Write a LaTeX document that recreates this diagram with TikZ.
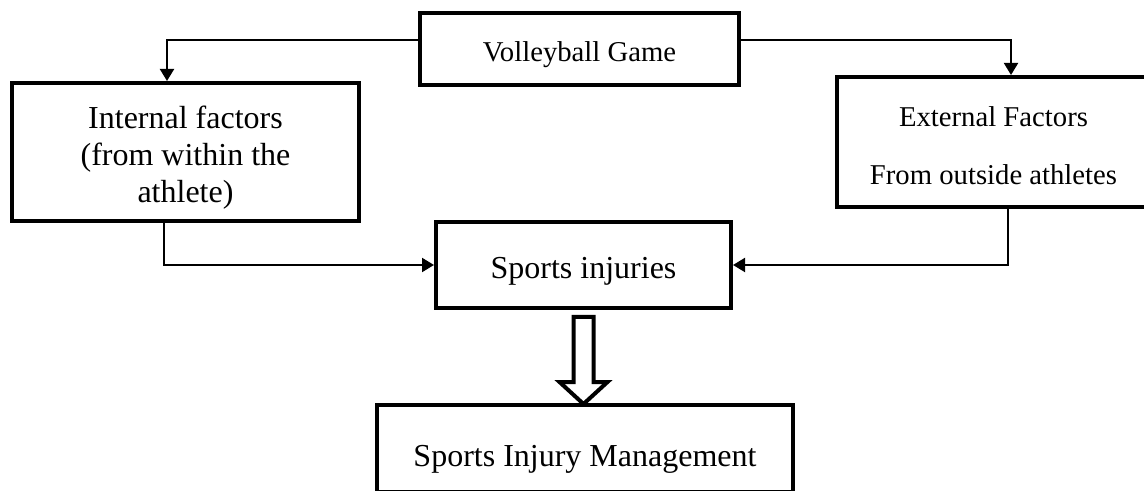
\documentclass[tikz,border=0pt]{standalone}
\usepackage{fontspec}
\setmainfont{Liberation Serif}
\usetikzlibrary{arrows.meta}

\begin{document}
\begin{tikzpicture}[x=0.5pt,y=-0.5pt,
every node/.style = {
shape= rectangle,
draw,
line width     = 2pt,
inner sep      = 0pt,
align          = center,
text           = black},
big text/.style    = {font=\fontsize{16}{18.5}\selectfont},
small text/.style  = {font=\fontsize{14.35}{29}\selectfont},
text drop/.style   = {execute at begin node={\rule{0pt}{#1}}},
link/.style        = {-{Triangle[length=6pt,width=7pt]},
line width=1pt,
black},
fat arrow/.style   = {line width=2pt,
line join=miter,
fill=white}
]
\useasboundingbox (0,0) rectangle (1144,491);
\clip (0,0) rectangle (1144,491);
%
\node[small text,text drop=15.8pt,minimum width=159.5pt,minimum height=36pt] (nGame) at (579.5,49) {Volleyball Game};
\node[big text,minimum width=173.5pt,minimum height=69pt] (nInternal) at (185.5,152) {\rule{0pt}{17pt}Internal factors\\(from within the\\athlete)};
\node[small text,minimum width=156.5pt,minimum height=65pt] (nExternal) at (993.5,142) {\rule{0pt}{13.8pt}External Factors\\From outside athletes};
\node[big text,text drop=17pt,minimum width=147.5pt,minimum height=43pt] (nInjury) at (583.5,265) {Sports injuries};
\node[big text,minimum width=208pt,minimum height=43.5pt,text height=20pt,text depth=2pt] (nManage) at (585,448.5) {Sports Injury Management};
%
\draw[link] ([yshift=4.5pt]nGame.west) -| ([xshift=-9.25pt]nInternal.north);
\draw[link] ([yshift=4.5pt]nGame.east) -| ([xshift=8.75pt]nExternal.north);
\draw[link] ([xshift=-10.75pt]nInternal.south) |- (nInjury.west);
\draw[link] ([xshift=7.25pt]nExternal.south) |- (nInjury.east);
\draw[fat arrow] (nInjury.south) ++(-10,7) -- ++(0,65) -- ++(-14,0) -- ++(24,22) -- ++(24,-22) -- ++(-14,0) -- ++(0,-65) -- cycle;
%
\end{tikzpicture}
\end{document}
